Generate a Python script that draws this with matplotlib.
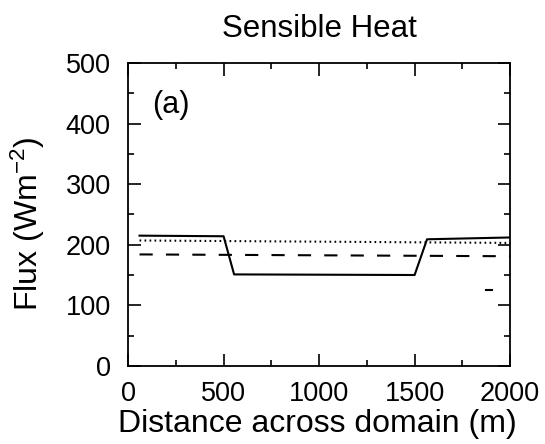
import matplotlib
matplotlib.use("Agg")
from matplotlib import pyplot as plt
from matplotlib.ticker import MultipleLocator

plt.rcParams['font.family'] = ['Liberation Sans', 'DejaVu Sans']
plt.rcParams['mathtext.fontset'] = 'custom'
plt.rcParams['mathtext.rm'] = 'Liberation Sans'
plt.rcParams['mathtext.it'] = 'Liberation Sans'
plt.rcParams['lines.scale_dashes'] = False

# sensible heat flux across the domain
solid_x = [60, 500, 555, 1500, 1565, 2000]
solid_y = [215, 214, 151, 150, 209, 212]
dotted_x = [60, 2000]
dotted_y = [207, 203]
dashed_x = [60, 2000]
dashed_y = [184, 181]
# small stray mark right of centre
stray_x = [1875, 1905]
stray_y = [125, 125]

x_ticks = [0, 500, 1000, 1500, 2000]
y_ticks = [0, 100, 200, 300, 400, 500]

fs = 23
tick_fs = 19.5

fig = plt.figure(figsize=(5.45, 4.44), dpi=100)
ax = fig.add_axes([0.235, 0.176, 0.701, 0.682])

ax.plot(solid_x, solid_y, color='black', lw=1.5, linestyle='-')
ax.plot(dotted_x, dotted_y, color='black', lw=1.5, linestyle=(0, (1.2, 2.4)))
ax.plot(dashed_x, dashed_y, color='black', lw=1.5, linestyle=(0, (9.5, 9.5)))
ax.plot(stray_x, stray_y, color='black', lw=1.5)

ax.set_xlim(0, 2000)
ax.set_ylim(0, 500)
ax.set_xticks(x_ticks)
ax.set_yticks(y_ticks)
ax.xaxis.set_minor_locator(MultipleLocator(250))
ax.yaxis.set_minor_locator(MultipleLocator(50))
ax.tick_params(which='both', direction='in', top=True, right=True, width=1.2, labelsize=tick_fs)
ax.tick_params(which='major', length=9)
ax.tick_params(which='minor', length=4.5)
ax.tick_params(axis='x', which='major', pad=11)
ax.tick_params(axis='y', which='major', pad=12.5)
for s in ax.spines.values():
    s.set_linewidth(1.3)

ax.set_xlabel('Distance across domain (m)', fontsize=fs)
ax.xaxis.set_label_coords(0.496, -0.217)
ax.xaxis.label.set_va('baseline')
ax.set_ylabel(r'Flux (Wm$^{\mathregular{-2}}$)', fontsize=fs)
ax.yaxis.set_label_coords(-0.236, 0.469)
ax.yaxis.label.set_va('baseline')
ax.set_title('Sensible Heat', fontsize=22.5, pad=19)
ax.text(0.063, 0.835, '(a)', transform=ax.transAxes, fontsize=22, ha='left', va='baseline')

fig.savefig('out.png', dpi=100)
